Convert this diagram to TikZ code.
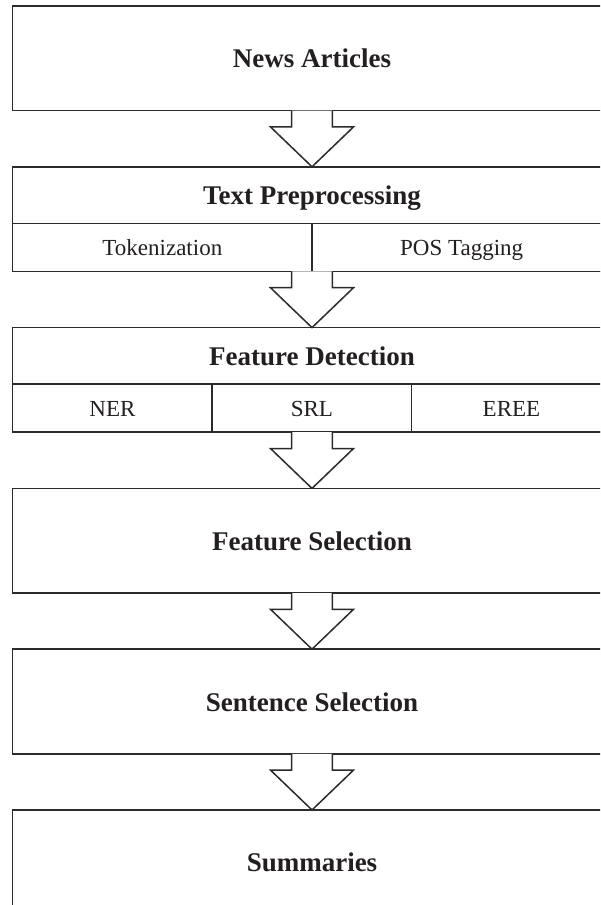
\documentclass[tikz,border=0pt]{standalone}
\usepackage{fontspec}
\setmainfont{Liberation Serif}
\usetikzlibrary{positioning}

\definecolor{linecol}{HTML}{2B2B2B}
\definecolor{txtcol}{HTML}{231F20}

% block arrow from the bottom of one stage to the top of the next
\newcommand{\flowarrow}[2]{%
	\filldraw[arrowbody] ([xshift=-20.3pt]#1.south) -- ++(0,16.3) -- ++(-21.2,0) -- (#2.north)
		-- ++(41.5,-39.9) -- ++(-21.2,0) -- ([xshift=20.3pt]#1.south);}

\begin{document}
\begin{tikzpicture}[x=1pt, y=-1pt,
	stage/.style={draw=linecol, line width=1.5pt, minimum width=598.6pt, minimum height=104.6pt,
		inner sep=0pt, outer sep=0pt, text=txtcol, font=\fontsize{27}{32}\selectfont\bfseries,
		text height=19pt, text depth=0pt},
	title/.style={minimum height=56.5pt, inner sep=0pt, outer sep=0pt, text=txtcol,
		font=\fontsize{27}{32}\selectfont\bfseries, text height=19pt, text depth=0pt},
	cell/.style={draw=linecol, line width=1.5pt, minimum height=48.1pt, inner sep=0pt, outer sep=0pt,
		text=txtcol, font=\fontsize{23}{28}\selectfont, text height=16pt, text depth=0pt},
	arrowbody/.style={draw=linecol, fill=white, line width=1.5pt, line join=miter}]
	\useasboundingbox (0,0) rectangle (600,905);
	\clip (0,0) rectangle (600,905);

	%stages
	\node[stage] (news) at (312,58.3) {News Articles};
	\node[stage, below=56.2pt of news] (prep) {};
	\node[title, anchor=north] (preptitle) at (prep.north) {Text Preprocessing};
	\node[cell, minimum width=299.3pt, anchor=south west] (token) at (prep.south west) {Tokenization};
	\node[cell, minimum width=299.3pt, anchor=south west] (pos) at (token.south east) {POS Tagging};
	%
	\node[stage, below=56.2pt of prep] (detect) {};
	\node[title, anchor=north] (detecttitle) at (detect.north) {Feature Detection};
	\node[cell, minimum width=199.5pt, anchor=south west] (ner) at (detect.south west) {NER};
	\node[cell, minimum width=199.5pt, anchor=south west] (srl) at (ner.south east) {SRL};
	\node[cell, minimum width=199.5pt, anchor=south west] (eree) at (srl.south east) {EREE};
	%
	\node[stage, below=56.2pt of detect] (fsel) {Feature Selection};
	\node[stage, below=56.2pt of fsel] (ssel) {Sentence Selection};
	\node[stage, below=56.2pt of ssel] (summ) {Summaries};

	%arrows
	\flowarrow{news}{prep}
	\flowarrow{prep}{detect}
	\flowarrow{detect}{fsel}
	\flowarrow{fsel}{ssel}
	\flowarrow{ssel}{summ}
\end{tikzpicture}
\end{document}
